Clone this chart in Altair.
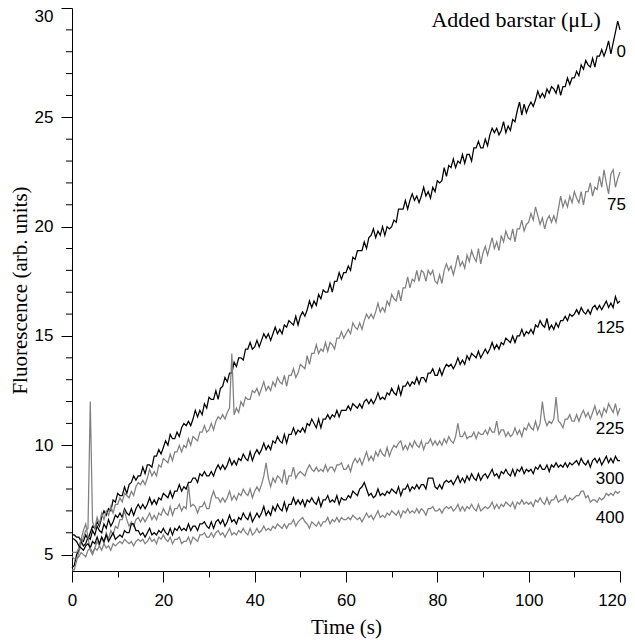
import altair as alt
import pandas as pd

# sampling interval of the recorded traces (s)
time_step = 0.5

series_names = ["0", "75", "125", "225", "300", "400"]
series_colors = ["#000000", "#808080", "#000000", "#808080", "#000000", "#808080"]

s0 = [
    4.4, 4.5, 5.0, 5.2, 5.7, 5.6, 5.9, 5.7, 6.0, 6.3, 6.2, 6.5, 6.3, 6.7, 7.0, 6.8, 7.1, 7.0, 7.5, 7.4,
    7.8, 7.7, 7.7, 8.1, 7.8, 8.2, 8.3, 8.6, 8.4, 8.6, 8.6, 9.0, 8.7, 9.1, 9.1, 9.0, 9.5, 9.5, 9.8, 9.6,
    9.9, 10.2, 10.0, 10.5, 10.3, 10.3, 10.6, 10.4, 10.8, 11.0, 10.9, 11.1, 10.9, 11.2, 11.6, 11.3, 11.6, 11.4, 11.9, 11.7,
    12.2, 12.1, 12.1, 12.5, 12.1, 12.6, 12.7, 13.1, 12.9, 13.3, 13.3, 13.8, 13.6, 14.0, 14.0, 13.9, 14.4, 14.4, 14.7, 14.4,
    14.5, 14.8, 14.5, 14.8, 15.1, 14.9, 15.1, 14.8, 15.1, 15.4, 15.1, 15.3, 15.1, 15.5, 15.4, 15.7, 15.6, 15.5, 15.9, 15.5,
    15.9, 16.1, 15.9, 16.2, 16.6, 16.3, 16.6, 16.4, 16.9, 16.7, 17.1, 17.0, 17.0, 17.4, 17.0, 17.5, 17.5, 17.9, 17.6, 17.9,
    17.9, 18.2, 18.0, 18.6, 18.5, 18.9, 18.9, 18.9, 19.3, 19.0, 19.5, 19.6, 19.9, 19.5, 19.8, 19.6, 20.0, 19.6, 20.0, 19.9,
    20.0, 20.3, 20.2, 20.8, 20.8, 20.8, 21.2, 20.8, 21.2, 21.5, 21.2, 21.4, 21.1, 21.4, 21.8, 21.4, 21.6, 21.3, 21.8, 21.6,
    22.1, 22.0, 22.1, 22.7, 22.3, 22.8, 22.7, 23.1, 22.7, 23.0, 22.9, 23.3, 22.9, 23.3, 23.3, 23.0, 23.6, 23.6, 23.9, 23.6,
    23.6, 24.0, 23.7, 24.2, 24.5, 24.3, 24.5, 24.2, 24.4, 24.8, 24.3, 24.6, 24.4, 24.9, 24.8, 25.3, 25.7, 25.1, 25.6, 25.2,
    25.5, 25.7, 25.5, 25.8, 26.2, 25.9, 26.1, 25.9, 26.3, 26.1, 26.4, 26.3, 26.1, 26.5, 26.0, 26.4, 26.4, 26.8, 26.5, 26.8,
    26.8, 27.1, 26.9, 27.4, 27.2, 27.6, 27.4, 27.3, 27.7, 27.3, 27.8, 27.8, 28.1, 27.8, 28.1, 28.5, 27.9, 28.4, 28.9, 29.4,
    29.0,
]

s75 = [
    4.3, 4.3, 4.7, 5.1, 5.5, 5.8, 6.1, 6.2, 12.0, 6.5, 6.2, 6.7, 6.4, 6.9, 6.6, 7.0, 6.8, 7.2, 6.9, 7.3,
    7.3, 7.6, 7.4, 7.8, 7.7, 7.6, 7.9, 7.7, 8.1, 8.3, 8.2, 8.4, 8.2, 8.5, 8.9, 8.6, 8.8, 8.6, 9.1, 9.0,
    9.4, 9.3, 9.2, 9.6, 9.3, 9.7, 9.7, 10.0, 9.7, 10.0, 9.9, 10.3, 10.0, 10.4, 10.3, 10.2, 10.6, 10.6, 10.9, 10.6,
    10.7, 11.0, 10.7, 11.1, 11.3, 11.2, 11.4, 11.2, 11.5, 11.7, 14.2, 11.4, 11.7, 11.5, 12.0, 11.8, 12.2, 12.1, 12.1, 12.5,
    12.4, 12.6, 12.3, 12.6, 12.9, 12.5, 12.7, 12.5, 12.9, 12.7, 13.1, 12.9, 12.8, 13.2, 12.7, 13.2, 13.2, 13.5, 13.1, 13.3,
    13.7, 13.6, 13.5, 14.1, 13.7, 14.2, 14.2, 14.6, 14.2, 14.4, 14.3, 14.7, 14.3, 14.7, 14.6, 14.4, 14.9, 14.9, 15.2, 14.9,
    15.1, 15.3, 15.1, 15.6, 15.4, 15.3, 15.6, 15.3, 15.7, 16.0, 15.8, 16.0, 15.8, 16.1, 16.5, 16.1, 16.3, 16.1, 16.6, 16.4,
    16.9, 16.7, 16.6, 17.1, 16.6, 17.2, 17.2, 17.7, 17.2, 17.6, 17.5, 18.0, 17.5, 18.0, 17.9, 17.5, 18.0, 17.8, 18.0, 17.5,
    17.4, 17.8, 17.4, 18.0, 18.3, 18.0, 18.2, 17.8, 18.2, 18.7, 18.2, 18.4, 18.1, 18.7, 18.4, 18.9, 18.6, 18.4, 19.0, 18.3,
    18.8, 19.1, 18.7, 19.1, 19.5, 19.0, 19.3, 18.9, 19.6, 19.3, 19.8, 19.5, 19.4, 19.9, 19.3, 19.9, 19.9, 20.3, 19.8, 20.1,
    20.2, 20.6, 20.3, 20.9, 20.5, 20.1, 20.4, 19.9, 20.3, 20.5, 20.2, 20.5, 20.2, 20.8, 21.4, 20.9, 21.2, 20.9, 21.4, 21.1,
    21.6, 21.3, 21.1, 21.6, 21.0, 21.6, 21.6, 22.0, 21.4, 21.8, 21.7, 22.3, 21.8, 22.6, 22.0, 21.5, 22.4, 22.6, 21.8, 22.2,
    22.5,
]

s125 = [
    5.9, 5.9, 5.8, 5.8, 5.6, 5.4, 5.5, 5.8, 5.7, 6.1, 5.9, 6.3, 6.1, 6.0, 6.4, 6.2, 6.6, 6.3, 6.5, 6.8,
    6.7, 6.9, 6.7, 7.1, 6.9, 6.8, 7.1, 6.8, 7.1, 7.3, 7.1, 7.3, 7.1, 7.3, 7.6, 7.3, 7.5, 7.3, 7.6, 7.5,
    7.8, 7.7, 7.6, 7.9, 7.6, 7.9, 7.9, 8.2, 7.9, 8.1, 8.0, 8.3, 8.3, 8.5, 8.5, 8.3, 8.7, 8.6, 8.8, 8.6,
    8.6, 8.8, 8.6, 8.9, 9.1, 8.9, 9.1, 8.9, 9.1, 9.4, 9.1, 9.3, 9.1, 9.4, 9.3, 9.6, 9.4, 9.3, 9.7, 9.3,
    9.6, 9.8, 9.6, 9.8, 10.1, 9.8, 10.0, 9.8, 10.2, 10.1, 10.4, 10.2, 10.1, 10.5, 10.1, 10.5, 10.5, 10.8, 10.5, 10.7,
    10.6, 10.8, 10.6, 11.0, 10.9, 11.2, 11.0, 10.8, 11.2, 10.8, 11.2, 11.2, 11.4, 11.2, 11.4, 11.3, 11.6, 11.3, 11.6, 11.6,
    11.6, 11.8, 11.6, 11.9, 11.8, 11.7, 11.9, 11.7, 12.0, 12.1, 11.9, 12.1, 11.9, 12.1, 12.4, 12.1, 12.2, 12.1, 12.4, 12.3,
    12.6, 12.4, 12.3, 12.7, 12.3, 12.7, 12.7, 12.9, 12.7, 12.9, 12.8, 13.1, 12.8, 13.1, 13.1, 12.9, 13.3, 13.3, 13.5, 13.2,
    13.2, 13.5, 13.2, 13.5, 13.7, 13.6, 13.7, 13.5, 13.7, 14.0, 13.7, 13.9, 13.7, 14.1, 13.9, 14.2, 14.1, 14.0, 14.3, 14.0,
    14.2, 14.4, 14.2, 14.4, 14.7, 14.4, 14.6, 14.4, 14.7, 14.6, 14.9, 14.8, 14.7, 15.0, 14.7, 15.0, 15.0, 15.3, 15.0, 15.2,
    15.1, 15.3, 15.1, 15.5, 15.4, 15.7, 15.5, 15.4, 15.8, 15.3, 15.5, 15.3, 15.6, 15.4, 15.7, 15.7, 15.9, 15.7, 16.0, 15.9,
    16.0, 16.2, 16.0, 16.3, 16.1, 16.0, 16.2, 16.0, 16.3, 16.4, 16.2, 16.4, 16.2, 16.4, 16.6, 16.3, 16.5, 16.3, 16.8, 16.5,
    16.6,
]

s225 = [
    5.1, 5.1, 5.1, 5.3, 5.7, 6.1, 6.4, 5.8, 5.2, 5.0, 5.3, 5.6, 5.4, 5.8, 5.5, 6.0, 5.7, 6.1, 5.9, 6.3,
    6.2, 6.6, 6.6, 7.0, 6.6, 6.3, 6.5, 6.3, 6.6, 6.7, 6.5, 6.7, 6.5, 6.7, 6.9, 6.6, 6.8, 6.6, 6.9, 6.8,
    7.1, 6.9, 6.8, 7.2, 6.8, 7.1, 7.1, 7.3, 7.0, 7.2, 7.1, 8.2, 7.2, 7.3, 7.2, 6.9, 7.2, 7.2, 7.4, 7.1,
    7.1, 7.6, 7.9, 7.6, 7.6, 7.4, 7.6, 7.4, 7.6, 7.9, 7.5, 7.7, 7.5, 7.8, 7.7, 8.0, 7.8, 7.7, 8.0, 7.6,
    7.9, 8.1, 7.9, 8.2, 8.6, 9.2, 8.5, 8.1, 8.5, 8.3, 8.6, 8.5, 8.3, 8.9, 8.2, 8.6, 8.6, 9.0, 8.5, 8.7,
    8.8, 8.7, 8.6, 8.9, 9.1, 8.9, 8.8, 9.0, 8.8, 8.9, 8.8, 9.1, 8.8, 9.0, 9.0, 8.8, 9.1, 9.1, 9.2, 8.9,
    8.9, 9.1, 8.8, 9.2, 9.4, 9.2, 9.4, 9.1, 9.4, 9.7, 9.3, 9.5, 9.3, 9.7, 9.5, 9.8, 9.6, 9.5, 9.9, 9.5,
    9.8, 10.0, 9.9, 10.1, 10.2, 9.8, 10.0, 9.8, 10.1, 9.9, 10.2, 10.0, 9.9, 10.2, 9.8, 10.1, 10.1, 10.3, 10.0, 10.2,
    10.0, 10.2, 10.0, 10.3, 10.1, 10.4, 10.2, 10.1, 10.4, 11.0, 10.4, 10.4, 10.6, 10.3, 10.4, 10.4, 10.6, 10.3, 10.6, 10.5,
    10.5, 10.7, 10.5, 10.8, 10.6, 10.6, 11.1, 10.5, 10.7, 10.7, 10.4, 10.6, 10.4, 10.5, 10.8, 10.5, 10.7, 10.4, 10.8, 10.7,
    11.0, 10.8, 10.7, 11.1, 10.7, 11.0, 12.0, 11.2, 10.9, 11.1, 11.0, 11.2, 12.2, 11.1, 11.0, 10.8, 11.2, 11.2, 11.4, 11.1,
    11.1, 11.4, 11.1, 11.4, 11.6, 11.3, 11.5, 11.2, 11.5, 11.8, 11.4, 11.6, 11.3, 11.7, 11.5, 11.9, 11.7, 11.5, 11.9, 11.4,
    11.7,
]

s300 = [
    5.75, 5.7, 5.6, 5.4, 5.3, 5.2, 5.4, 5.5, 5.3, 5.6, 5.5, 5.8, 5.5, 5.8, 5.6, 5.9, 5.6, 5.8, 6.0, 5.7,
    5.8, 5.9, 5.8, 6.1, 6.0, 6.0, 6.4, 6.4, 6.1, 6.1, 5.9, 6.0, 5.8, 6.0, 6.2, 5.9, 6.0, 5.9, 6.1, 6.0,
    6.2, 6.0, 5.9, 6.2, 5.9, 6.2, 6.1, 6.3, 6.1, 6.2, 6.1, 6.4, 6.1, 6.3, 6.3, 6.1, 6.4, 6.4, 6.5, 6.3,
    6.2, 6.5, 6.2, 6.5, 6.6, 6.4, 6.6, 6.3, 6.5, 6.8, 6.5, 6.6, 6.4, 6.7, 6.6, 6.9, 6.7, 6.6, 6.9, 6.5,
    6.7, 6.9, 6.7, 6.9, 7.2, 6.8, 7.0, 6.8, 7.2, 7.0, 7.3, 7.1, 7.0, 7.4, 7.0, 7.3, 7.3, 7.6, 7.3, 7.5,
    7.3, 7.5, 7.2, 7.5, 7.4, 7.6, 7.4, 7.3, 7.6, 7.2, 7.5, 7.5, 7.7, 7.4, 7.5, 7.4, 7.7, 7.3, 7.6, 7.5,
    7.5, 7.7, 7.6, 7.9, 7.8, 7.7, 8.0, 8.1, 8.3, 8.0, 7.7, 7.8, 7.6, 7.7, 8.0, 7.7, 7.8, 7.7, 7.9, 7.8,
    8.0, 7.9, 7.8, 8.1, 7.7, 8.0, 8.0, 8.2, 7.9, 8.1, 8.0, 8.2, 8.0, 8.2, 8.2, 8.0, 8.5, 8.5, 8.5, 8.1,
    8.0, 8.2, 8.0, 8.3, 8.4, 8.3, 8.4, 8.2, 8.4, 8.6, 8.3, 8.5, 8.3, 8.6, 8.4, 8.7, 8.5, 8.4, 8.7, 8.4,
    8.6, 8.7, 8.5, 8.7, 8.9, 8.6, 8.7, 8.5, 8.8, 8.7, 8.9, 8.7, 8.6, 8.9, 8.6, 8.9, 8.8, 9.0, 8.7, 8.9,
    8.8, 8.9, 8.7, 9.0, 8.9, 9.1, 8.9, 8.9, 9.1, 8.8, 9.1, 9.0, 9.2, 9.0, 9.1, 9.0, 9.2, 9.0, 9.2, 9.1,
    9.2, 9.3, 9.1, 9.4, 9.2, 9.1, 9.3, 9.0, 9.3, 9.4, 9.2, 9.4, 9.1, 9.3, 9.5, 9.2, 9.4, 9.2, 9.5, 9.3,
    9.3,
]

s400 = [
    4.9, 4.8, 4.8, 4.9, 5.1, 5.0, 4.9, 5.2, 5.3, 5.1, 5.3, 5.2, 5.4, 5.2, 5.5, 5.3, 5.4, 5.2, 5.5, 5.4,
    5.5, 5.6, 5.5, 5.7, 5.6, 5.5, 5.6, 5.4, 5.6, 5.7, 5.6, 5.7, 5.5, 5.6, 5.8, 5.6, 5.7, 5.5, 5.8, 5.7,
    5.9, 5.7, 5.6, 5.8, 5.5, 5.7, 5.7, 5.8, 5.5, 5.6, 5.6, 5.8, 5.5, 5.8, 5.7, 5.6, 5.9, 5.9, 6.0, 5.8,
    5.8, 6.0, 5.8, 6.0, 6.1, 5.9, 6.0, 5.8, 6.0, 6.2, 5.9, 6.0, 5.9, 6.1, 6.0, 6.2, 6.0, 5.9, 6.2, 5.9,
    6.0, 6.2, 6.0, 6.1, 6.3, 6.1, 6.2, 6.1, 6.3, 6.2, 6.4, 6.3, 6.2, 6.4, 6.2, 6.4, 6.4, 6.6, 6.3, 6.5,
    6.6, 6.7, 6.5, 6.4, 6.2, 6.5, 6.4, 6.3, 6.5, 6.3, 6.5, 6.5, 6.7, 6.4, 6.6, 6.5, 6.7, 6.5, 6.7, 6.6,
    6.6, 6.7, 6.6, 6.8, 6.7, 6.6, 6.7, 6.5, 6.7, 6.9, 6.7, 6.8, 6.6, 6.8, 7.0, 6.7, 6.8, 6.7, 6.9, 6.8,
    7.0, 6.9, 6.8, 7.0, 6.7, 7.0, 6.9, 7.1, 6.9, 7.0, 6.9, 7.1, 6.9, 7.1, 7.0, 6.8, 7.1, 7.1, 7.2, 7.0,
    7.0, 7.1, 6.9, 7.1, 7.2, 7.1, 7.2, 7.0, 7.1, 7.3, 7.0, 7.2, 7.0, 7.2, 7.1, 7.3, 7.1, 7.0, 7.3, 7.0,
    7.1, 7.2, 7.1, 7.2, 7.4, 7.1, 7.3, 7.1, 7.3, 7.2, 7.4, 7.3, 7.2, 7.4, 7.1, 7.4, 7.3, 7.5, 7.3, 7.4,
    7.3, 7.4, 7.2, 7.5, 7.4, 7.6, 7.4, 7.3, 7.6, 7.3, 7.5, 7.5, 7.7, 7.4, 7.5, 7.5, 7.7, 7.4, 7.6, 7.5,
    7.6, 7.7, 7.7, 7.9, 7.9, 7.6, 7.7, 7.4, 7.5, 7.5, 7.4, 7.6, 7.5, 7.6, 7.8, 7.7, 7.8, 7.7, 7.9, 7.8,
    7.9,
]

# axis tick positions
y_major_ticks = [5, 10, 15, 20, 25, 30]
y_minor_ticks = [6, 7, 8, 9, 11, 12, 13, 14, 16, 17, 18, 19, 21, 22, 23, 24, 26, 27, 28, 29]
x_ticks = [0, 5, 10, 15, 20, 25, 30, 35, 40, 45, 50, 55, 60, 65, 70, 75, 80, 85, 90, 95, 100, 105, 110, 115, 120]

# right-hand series labels (data coordinates of each label's right edge / centre)
label_time = [121.3, 121.3, 121.0, 120.9, 120.9, 120.9]
label_fluor = [27.99, 20.99, 15.36, 10.74, 8.46, 6.67]

header_text = ["Added barstar (\u03bcL)"]
header_time = [115.8]
header_fluor = [29.15]

rows = []
for name, vals in zip(series_names, [s0, s75, s125, s225, s300, s400]):
    for i, v in enumerate(vals):
        rows.append({"time": i * time_step, "fluor": v, "series": name})
df = pd.DataFrame(rows)

labels_df = pd.DataFrame({"time": label_time, "fluor": label_fluor, "text": series_names})
header_df = pd.DataFrame({"time": header_time, "fluor": header_fluor, "text": header_text})
minor_df = pd.DataFrame({"fluor": y_minor_ticks})

x_scale = alt.Scale(domain=[0, 120], nice=False, zero=False)
y_scale = alt.Scale(domain=[4.25, 30], nice=False, zero=False)

x_axis = alt.Axis(
    values=x_ticks,
    labelExpr="datum.value % 20 === 0 ? datum.label : ''",
    tickSize={"condition": {"test": "datum.value % 20 === 0", "value": 11}, "value": 6},
    labelAlign={"condition": {"test": "datum.value === 120", "value": "right"}, "value": "center"},
    labelOffset={"condition": {"test": "datum.value === 120", "value": 6}, "value": 0},
    tickColor="black", tickWidth=1, domainColor="black", domainWidth=1,
    labelFont="Liberation Sans", labelFontSize=17, labelColor="black",
    labelPadding=10, labelOverlap=False, grid=False,
    title="Time (s)", titleFont="Liberation Serif", titleFontSize=21,
    titleFontWeight="normal", titleColor="black",
    titleX=274, titleY=62, titleBaseline="alphabetic", titleAlign="center",
)

y_axis = alt.Axis(
    values=y_major_ticks,
    tickSize=11,
    labelBaseline={"condition": {"test": "datum.value === 30", "value": "top"}, "value": "middle"},
    tickColor="black", tickWidth=1, domainColor="black", domainWidth=1,
    labelFont="Liberation Sans", labelFontSize=17, labelColor="black",
    labelPadding=8, labelOverlap=False, grid=False,
    title="Fluorescence (arb. units)", titleFont="Liberation Serif", titleFontSize=21,
    titleFontWeight="normal", titleColor="black",
    titleX=-46, titleY=282, titleAngle=-90, titleBaseline="alphabetic", titleAlign="center",
)

lines = alt.Chart(df).mark_line(strokeWidth=1.25).encode(
    x=alt.X("time:Q", scale=x_scale, axis=x_axis),
    y=alt.Y("fluor:Q", scale=y_scale, axis=y_axis),
    color=alt.Color("series:N", scale=alt.Scale(domain=series_names, range=series_colors), legend=None),
    detail="series:N",
)

minor_ticks = alt.Chart(minor_df).mark_rule(color="black", strokeWidth=1).encode(
    y="fluor:Q", x=alt.value(-6), x2=alt.value(0)
)

labels = alt.Chart(labels_df).mark_text(
    align="right", baseline="middle", font="Liberation Sans", fontSize=17, color="black"
).encode(x="time:Q", y="fluor:Q", text="text:N")

header = alt.Chart(header_df).mark_text(
    align="right", baseline="alphabetic", font="Liberation Serif", fontSize=22, color="black"
).encode(x="time:Q", y="fluor:Q", text="text:N")

chart = alt.layer(lines, minor_ticks, labels, header).properties(
    width=548,
    height=563,
    autosize=alt.AutoSizeParams(type="none"),
    padding={"left": 64, "top": 0, "right": 7, "bottom": 69},
    background="white",
).configure_view(stroke=None)

chart.save("out.html", embed_options={"renderer": "svg", "actions": False})
